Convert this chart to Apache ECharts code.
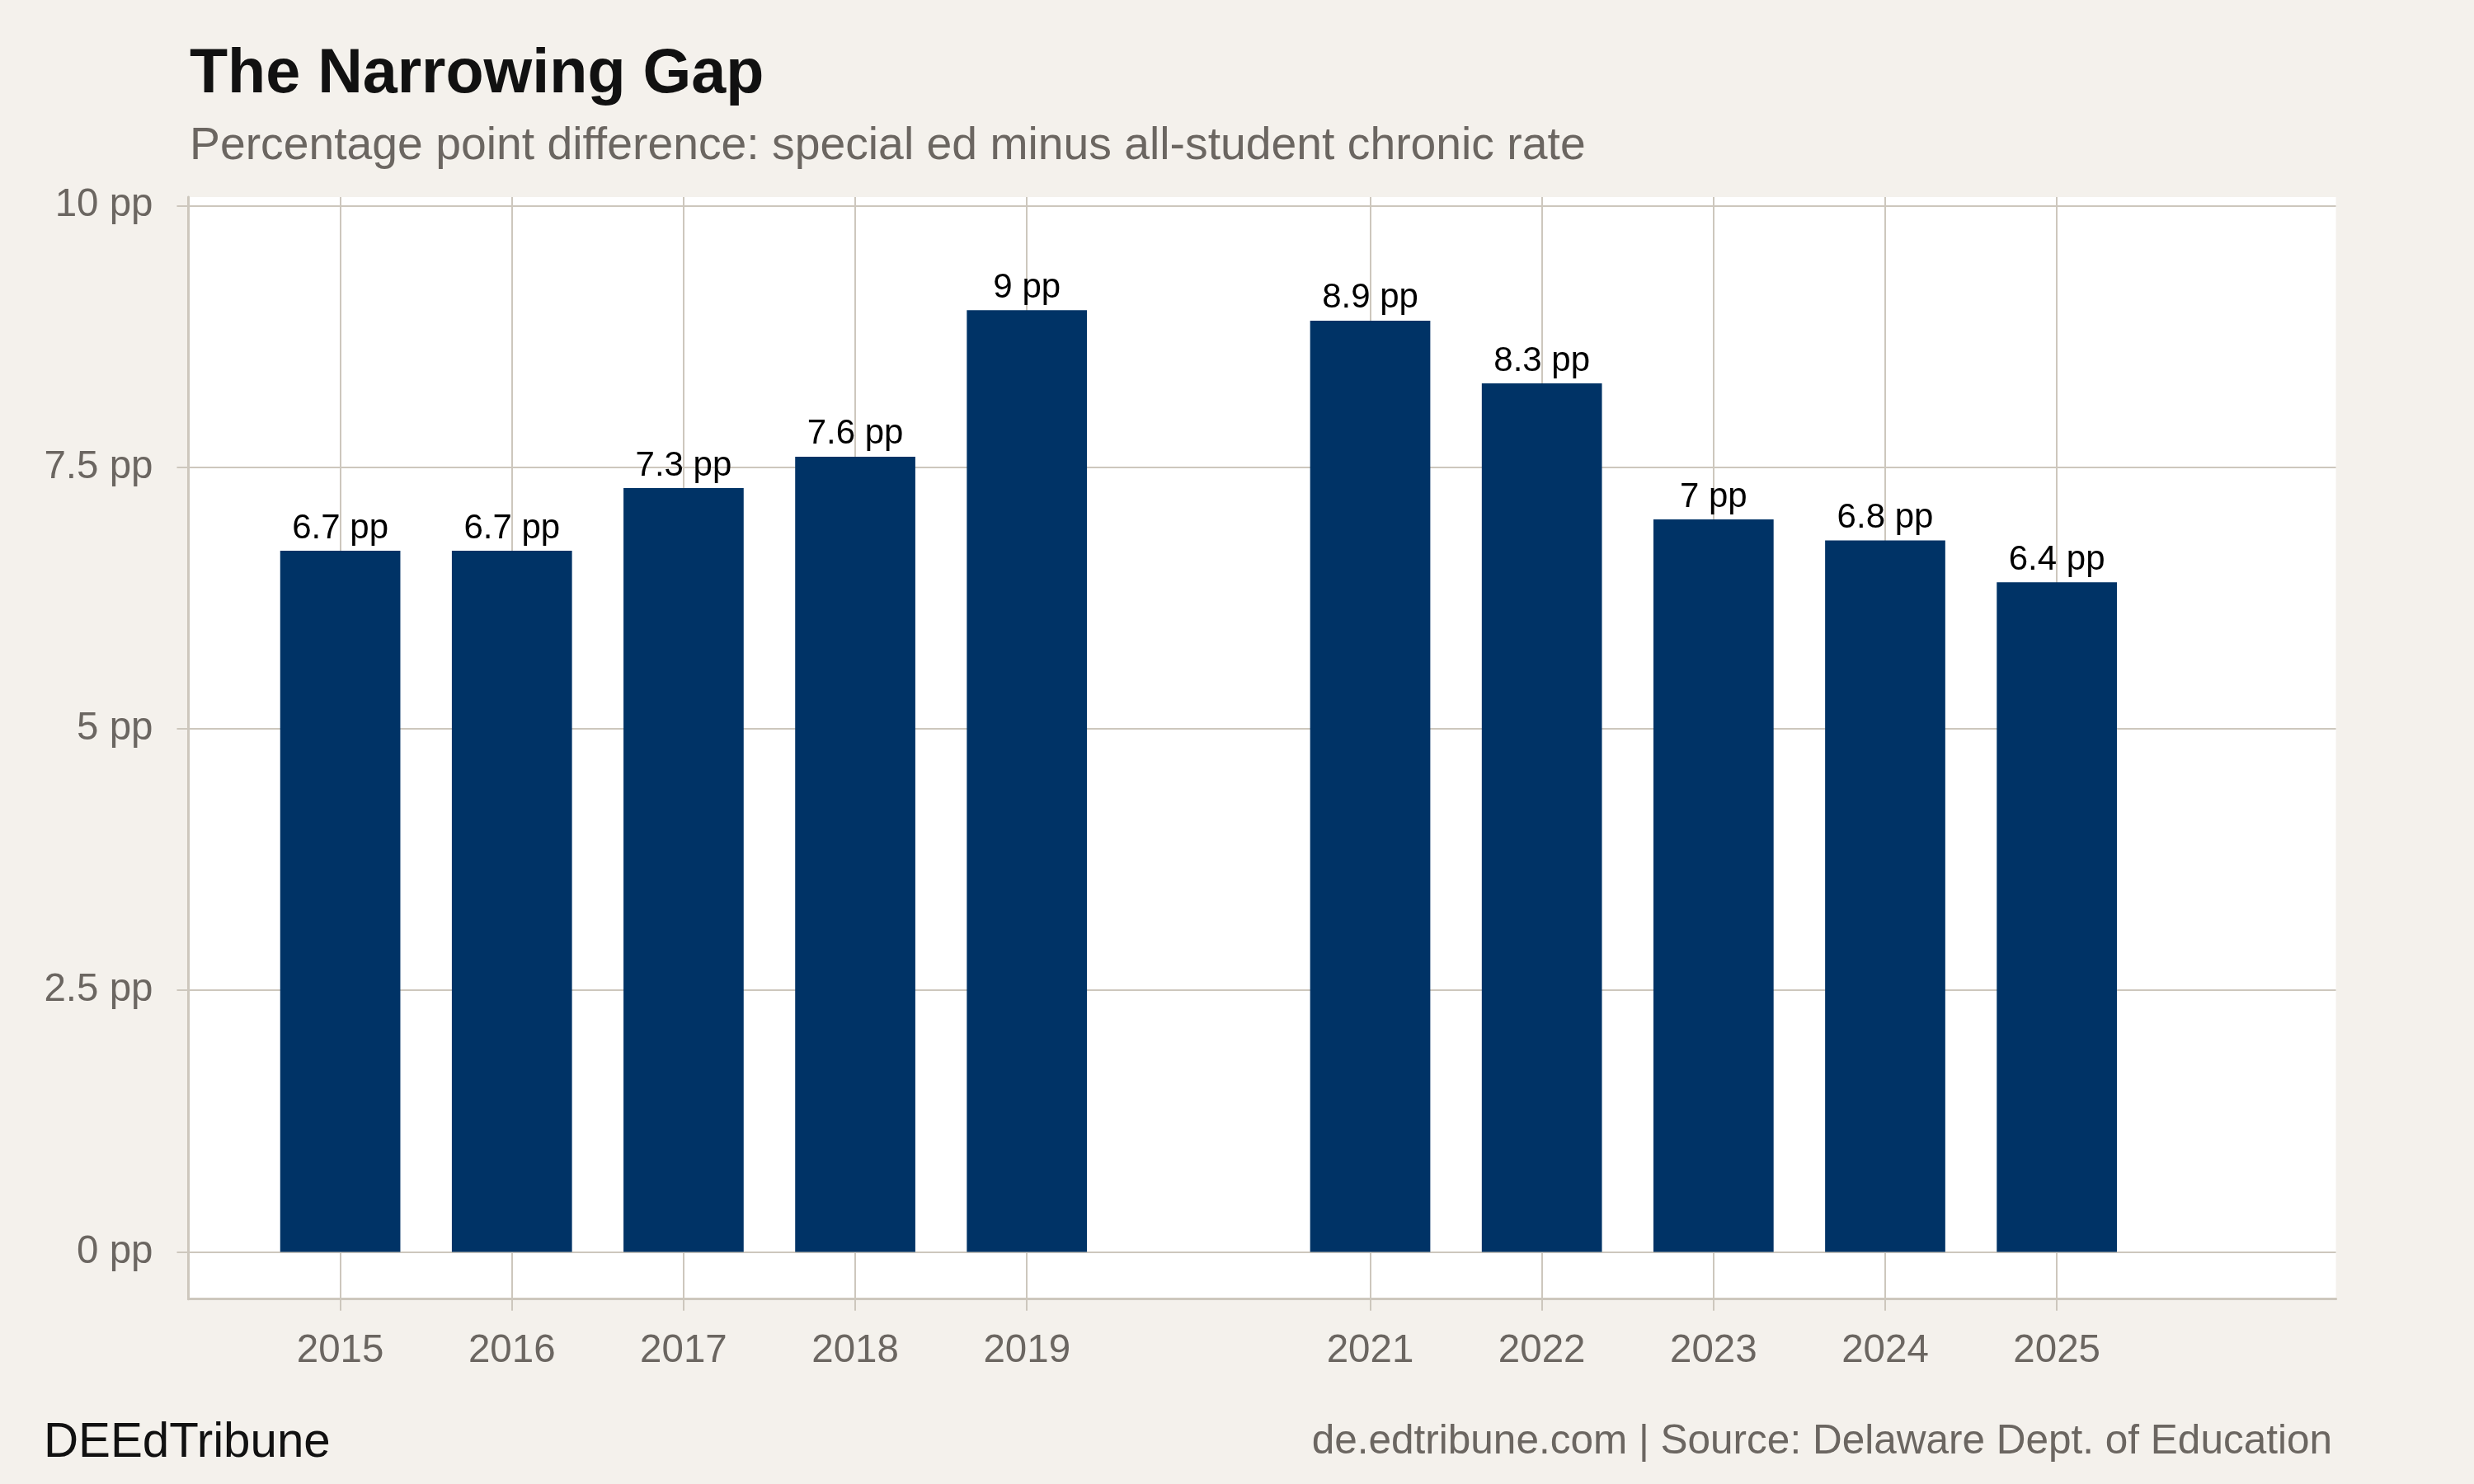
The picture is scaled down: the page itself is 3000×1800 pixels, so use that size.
<!DOCTYPE html>
<html>
<head>
<meta charset="utf-8">
<script src="https://cdn.jsdelivr.net/npm/echarts@6/dist/echarts.min.js"></script>
<style>
html,body{margin:0;padding:0;background:#f4f1ec;}
#chart{width:3000px;height:1800px;}
</style>
</head>
<body>
<div id="chart"></div>
<script>
// ---- data ----
const years = [2015, 2016, 2017, 2018, 2019, 2021, 2022, 2023, 2024, 2025];
const gapPP = [6.7, 6.7, 7.3, 7.6, 9.0, 8.9, 8.3, 7.0, 6.8, 6.4];
const yTicks = [0, 2.5, 5, 7.5, 10];
const titleText = 'The Narrowing Gap';
const subtitleText = 'Percentage point difference: special ed minus all-student chronic rate';
const brandText = 'DEEdTribune';
const sourceText = 'de.edtribune.com | Source: Delaware Dept. of Education';

const FONT = 'Liberation Sans, Arial, Helvetica, sans-serif';
const GRID_COLOR = '#cdc7bd';
const AXIS_TEXT = '#6b6661';

const chart = echarts.init(document.getElementById('chart'), null, {renderer: 'canvas'});
const fmt = v => (Math.round(v * 10) / 10) + ' pp';

chart.setOption({
  backgroundColor: '#f4f1ec',
  animation: false,
  textStyle: {fontFamily: FONT},
  title: [
    {text: titleText, left: 225, top: 48,
     textStyle: {fontFamily: FONT, fontSize: 75.5, fontWeight: 'bold', color: '#111111'}},
    {text: subtitleText, left: 225, top: 145,
     textStyle: {fontFamily: FONT, fontSize: 55.3, fontWeight: 'normal', color: AXIS_TEXT}},
    {text: brandText, left: 48, top: 1717,
     textStyle: {fontFamily: FONT, fontSize: 58.3, fontWeight: 'normal', color: '#111111'}},
    {text: sourceText, right: 167, top: 1719,
     textStyle: {fontFamily: FONT, fontSize: 49.5, fontWeight: 'normal', color: AXIS_TEXT}}
  ],
  grid: {
    left: 228.5, top: 239, right: 167.4, bottom: 224.3,
    show: true, backgroundColor: '#ffffff', borderWidth: 0,
    containLabel: false
  },
  xAxis: {
    type: 'value',
    min: 2014.1155, max: 2026.626,
    axisLine: {show: true, onZero: false, lineStyle: {color: GRID_COLOR, width: 3}},
    axisTick: {show: true, customValues: years, length: 14, inside: false,
               lineStyle: {color: GRID_COLOR, width: 2}},
    axisLabel: {show: true, customValues: years, formatter: v => String(v),
                margin: 39, fontSize: 47.5, color: AXIS_TEXT, fontFamily: FONT},
    splitLine: {show: true, lineStyle: {color: GRID_COLOR, width: 2}}
  },
  yAxis: {
    type: 'value',
    min: -0.4507, max: 10.081,
    axisLine: {show: true, onZero: false, lineStyle: {color: GRID_COLOR, width: 3}},
    axisTick: {show: true, customValues: yTicks, length: 14, inside: false,
               lineStyle: {color: GRID_COLOR, width: 2}},
    axisLabel: {show: true, customValues: yTicks, formatter: v => fmt(v),
                margin: 43, fontSize: 47.5, color: AXIS_TEXT, fontFamily: FONT},
    splitLine: {show: true, lineStyle: {color: GRID_COLOR, width: 2}}
  },
  series: [{
    type: 'bar',
    data: years.map((y, i) => [y, gapPP[i]]),
    barWidth: 145.7,
    itemStyle: {color: '#003366'},
    label: {show: true, position: 'top', distance: 6,
            formatter: p => fmt(p.value[1]),
            fontSize: 42, color: '#000000', fontFamily: FONT}
  }]
});
</script>
</body>
</html>
